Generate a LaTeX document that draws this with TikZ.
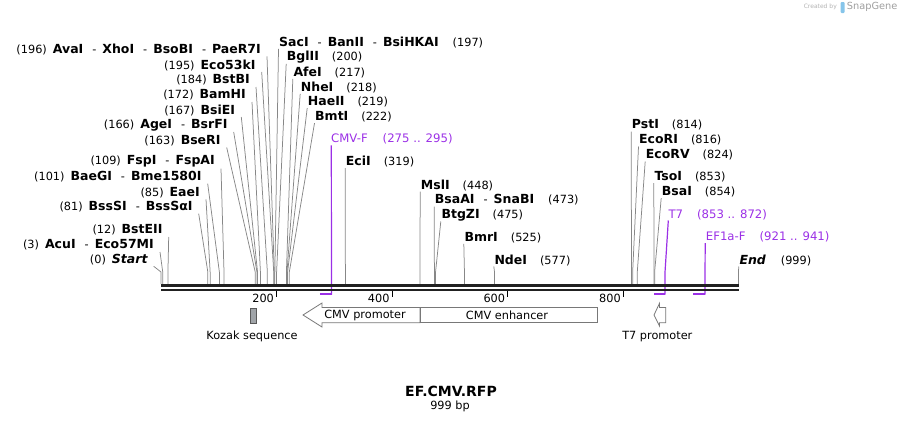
\documentclass[tikz,border=0pt]{standalone}
\usepackage{fontspec}
\setmainfont{DejaVu Sans}
\definecolor{primer}{RGB}{155,48,230}
\definecolor{siteline}{RGB}{135,135,135}
\definecolor{featline}{RGB}{120,120,120}
\definecolor{kozakfill}{RGB}{160,164,168}
\definecolor{logoblue}{RGB}{134,197,234}
\newcommand{\enz}[1]{{\fontsize{12.5}{14}\selectfont\bfseries #1}}
\newcommand{\enzsep}{\hspace{9pt}-\hspace{6pt}}
\begin{document}
\begin{tikzpicture}[x=1pt,y=-1pt,
    lbl/.style={inner sep=0pt,font=\fontsize{11.3}{13}\selectfont},
    oligolbl/.style={inner sep=0pt,text=primer,font=\fontsize{11.7}{13}\selectfont},
    site/.style={siteline,line width=0.75pt},
    oligo/.style={primer,line width=1.2pt},
    feat/.style={draw=featline,fill=white,line width=0.8pt}]
  \useasboundingbox (0,0) rectangle (901,423);
  % sequence positions
  \foreach \n/\p in {start/0, acuI/3, bstEII/12, bssSI/81, eaeI/85, baeGI/101, fspI/109,
      bseRI/163, ageI/166, bsiEI/167, bamHI/172, bstBI/184, eco53kI/195, avaI/196,
      sacI/197, bglII/200, afeI/217, nheI/218, haeII/219, bmtI/222, eciI/319, mslI/448,
      bsaAI/473, btgZI/475, bmrI/525, ndeI/577, pstI/814, ecoRI/816, ecoRV/824,
      tsoI/853, bsaI/854, t7/872, end/999} {
    \coordinate (k-\n) at ({161+0.578*\p},272);
    \coordinate (s-\n) at ({161+0.578*\p},284);
  }
  \coordinate (p-cmvF) at ({161+0.578*295},294.5);
  \coordinate (p-t7) at ({161+0.578*872},294.5);
  \coordinate (p-ef1aF) at ({161+0.578*941},294.5);

  % left labels
  \node (avaI) [lbl,left] at (261,49.3) {(196)\hspace{6pt}\enz{AvaI}\enzsep\enz{XhoI}\enzsep\enz{BsoBI}\enzsep\enz{PaeR7I}};
  \node (eco53kI) [lbl,left] at (255.7,65) {(195)\hspace{6pt}\enz{Eco53kI}};
  \node (bstBI) [lbl,left] at (250,80) {(184)\hspace{6pt}\enz{BstBI}};
  \node (bamHI) [lbl,left] at (246,95) {(172)\hspace{6pt}\enz{BamHI}};
  \node (bsiEI) [lbl,left] at (235.3,110) {(167)\hspace{6pt}\enz{BsiEI}};
  \node (ageI) [lbl,left] at (227.7,125) {(166)\hspace{6pt}\enz{AgeI}\enzsep\enz{BsrFI}};
  \node (bseRI) [lbl,left] at (220.7,140.5) {(163)\hspace{6pt}\enz{BseRI}};
  \node (fspI) [lbl,left] at (215,161.7) {(109)\hspace{6pt}\enz{FspI}\enzsep\enz{FspAI}};
  \node (baeGI) [lbl,left] at (201.7,176.7) {(101)\hspace{6pt}\enz{BaeGI}\enzsep\enz{Bme1580I}};
  \node (eaeI) [lbl,left] at (200,192.3) {(85)\hspace{6pt}\enz{EaeI}};
  \node (bssSI) [lbl,left] at (192.7,206.7) {(81)\hspace{6pt}\enz{BssSI}\enzsep\enz{BssSαI}};
  \node (bstEII) [lbl,left] at (162.7,230) {(12)\hspace{6pt}\enz{BstEII}};
  \node (acuI) [lbl,left] at (154,245) {(3)\hspace{6pt}\enz{AcuI}\enzsep\enz{Eco57MI}};
  \node (start) [lbl,left] at (147.7,259.3) {(0)\hspace{6pt}\enz{\itshape Start}};

  % right labels
  \node (sacI) [lbl,right] at (279,42.3) {\enz{SacI}\enzsep\enz{BanII}\enzsep\enz{BsiHKAI}\hspace{14pt}(197)};
  \node (bglII) [lbl,right] at (286.7,57.3) {\enz{BglII}\hspace{13pt}(200)};
  \node (afeI) [lbl,right] at (293.3,72.3) {\enz{AfeI}\hspace{13pt}(217)};
  \node (nheI) [lbl,right] at (300.7,87.3) {\enz{NheI}\hspace{13pt}(218)};
  \node (haeII) [lbl,right] at (307.7,101.7) {\enz{HaeII}\hspace{13pt}(219)};
  \node (bmtI) [lbl,right] at (315,116.7) {\enz{BmtI}\hspace{13pt}(222)};
  \node (eciI) [lbl,right] at (345.7,161.7) {\enz{EciI}\hspace{13pt}(319)};
  \node (mslI) [lbl,right] at (420.7,185) {\enz{MslI}\hspace{13pt}(448)};
  \node (bsaAI) [lbl,right] at (434.7,200) {\enz{BsaAI}\enzsep\enz{SnaBI}\hspace{14pt}(473)};
  \node (btgZI) [lbl,right] at (441.3,215) {\enz{BtgZI}\hspace{13pt}(475)};
  \node (bmrI) [lbl,right] at (464.3,237.3) {\enz{BmrI}\hspace{13pt}(525)};
  \node (ndeI) [lbl,right] at (494.3,260) {\enz{NdeI}\hspace{13pt}(577)};
  \node (pstI) [lbl,right] at (631.7,125) {\enz{PstI}\hspace{13pt}(814)};
  \node (ecoRI) [lbl,right] at (639,140) {\enz{EcoRI}\hspace{13pt}(816)};
  \node (ecoRV) [lbl,right] at (645.7,155) {\enz{EcoRV}\hspace{13pt}(824)};
  \node (tsoI) [lbl,right] at (654.3,176.7) {\enz{TsoI}\hspace{13pt}(853)};
  \node (bsaI) [lbl,right] at (661.7,191.7) {\enz{BsaI}\hspace{13pt}(854)};
  \node (end) [lbl,right] at (739.3,260) {\enz{\itshape End}\hspace{15pt}(999)};

  % primers
  \node (cmvF) [oligolbl,right] at (331,139.3) {CMV-F\hspace{15pt}(275 .. 295)};
  \node (t7) [oligolbl,right] at (668.3,215) {T7\hspace{14pt}(853 .. 872)};
  \node (ef1aF) [oligolbl,right] at (705.7,236.7) {EF1a-F\hspace{14pt}(921 .. 941)};

  % cut site lines
  \foreach \n in {avaI,eco53kI,bstBI,bamHI,bsiEI,ageI,bseRI,fspI,baeGI,eaeI,bssSI,bstEII,acuI,start}
    \draw [site] ([shift={(6,7)}]\n.east) -- (k-\n) -- (s-\n);
  \foreach \n in {sacI,bglII,afeI,nheI,haeII,bmtI,eciI,mslI,bsaAI,btgZI,bmrI,ndeI,pstI,ecoRI,ecoRV,tsoI,bsaI,end}
    \draw [site] ([shift={(-0.5,6.5)}]\n.west) -- (k-\n) -- (s-\n);

  \draw [oligo] ([shift={(0.3,6)}]cmvF.west) -- (p-cmvF);
  \draw [oligo] ([shift={(0,5.5)}]t7.west) -- (k-t7) -- (p-t7);
  \draw [oligo] ([shift={(-0.5,6.5)}]ef1aF.west) -- (p-ef1aF);
  \draw [primer,line width=2pt] ({161+0.578*275},293.5) -- ({161+0.578*295},293.5);
  \draw [primer,line width=2pt] ({161+0.578*853},293.5) -- ({161+0.578*872},293.5);
  \draw [primer,line width=2pt] ({161+0.578*921},293.5) -- ({161+0.578*941},293.5);

  % sequence
  \draw [black!87,line width=2.8pt] (161,285.5) -- (739,285.5);
  \draw [black!87,line width=2.5pt] (161,289.8) -- (739,289.8);
  \foreach \t in {200,400,600,800} {
    \draw [line width=1.3pt] ({161+0.578*\t},290.5) -- ({161+0.578*\t},297);
    \node (tick\t) [lbl,left] at ({158.5+0.578*\t},298.5) {\t};
  }

  % features
  \filldraw [fill=kozakfill,draw=black!65,line width=0.7pt] (250.5,308) rectangle (256.5,323);
  \node (kozak) [lbl] at (252,336.7) {Kozak sequence};
  \draw [feat] (303,315) -- (322,303) -- (322,307.5) -- (420,307.5) -- (420,322.7)
    -- (322,322.7) -- (322,327) -- cycle;
  \draw [feat] (420,307.5) rectangle (597,322.7);
  \node (cmvPro) [lbl] at (365,315) {CMV promoter};
  \node (cmvEnh) [lbl] at (507,315) {CMV enhancer};
  \draw [feat] (654,315) -- (659.5,303.3) -- (659.5,307.5) -- (665.7,307.5) -- (665.7,322.7)
    -- (659.5,322.7) -- (659.5,326) -- cycle;
  \node (t7Pro) [lbl] at (657.3,336.7) {T7 promoter};

  % title
  \node (title) [inner sep=0pt,font=\fontsize{14}{16}\selectfont\bfseries] at (451,391.3) {EF.CMV.RFP};
  \node (size) [lbl] at (450,406) {999 bp};

  % credit
  \node (credit) [inner sep=0pt,left,text=black!30,font=\fontsize{6}{7}\selectfont] at (837,7.3) {Created by};
  \fill [logoblue,rounded corners=1pt] (840.5,2) rectangle (844.5,13);
  \node (snapgene) [inner sep=0pt,right,text=black!38,font=\fontsize{9.8}{11}\selectfont] at (846.7,7.3) {SnapGene};
\end{tikzpicture}
\end{document}
